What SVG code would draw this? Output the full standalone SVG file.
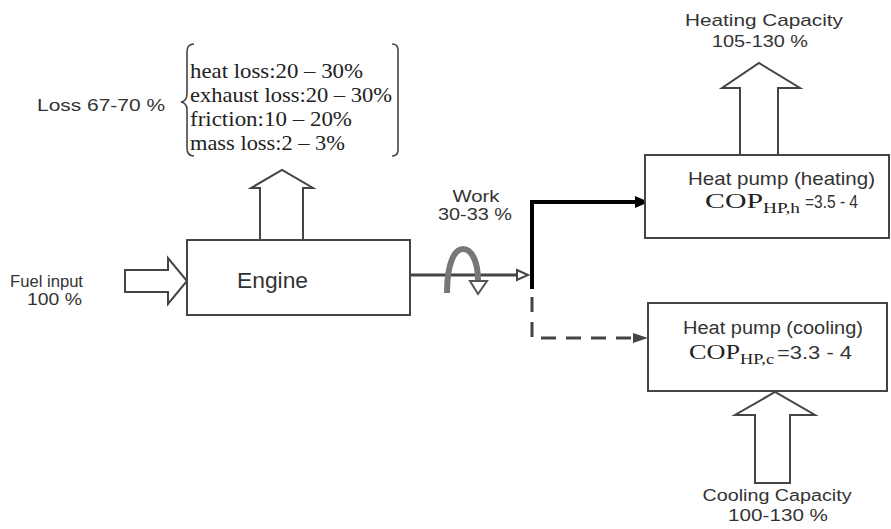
<svg xmlns="http://www.w3.org/2000/svg" width="891" height="529" viewBox="0 0 891 529">
<style>
.sans{font-family:"Liberation Sans",Arial,sans-serif;fill:#333}
.serif{font-family:"Liberation Serif","Times New Roman",serif;fill:#222}
.box{fill:#fff;stroke:#444;stroke-width:2}
.blk{fill:#fff;stroke:#444;stroke-width:2;stroke-linejoin:miter}
.ln{fill:none;stroke:#444}
</style>
<rect width="891" height="529" fill="#fff"/>

<g id="loss">
  <text class="sans" x="37" y="111" font-size="17" textLength="128" lengthAdjust="spacingAndGlyphs">Loss 67-70 %</text>
  <path class="ln" stroke-width="1.6" d="M194 44 Q187 44 187 52 V94 Q187 101 181 102 Q187 103 187 110 V148 Q187 156 194 156"/>
  <path class="ln" stroke-width="1.6" d="M392 44 Q398 44 398 50 V150 Q398 156 392 156"/>
  <text class="serif" x="190" y="78" font-size="21" textLength="173" lengthAdjust="spacingAndGlyphs">heat loss:20 – 30%</text>
  <text class="serif" x="190" y="102" font-size="21" textLength="202" lengthAdjust="spacingAndGlyphs">exhaust loss:20 – 30%</text>
  <text class="serif" x="190" y="126" font-size="21" textLength="162" lengthAdjust="spacingAndGlyphs">friction:10 – 20%</text>
  <text class="serif" x="190" y="150" font-size="21" textLength="155" lengthAdjust="spacingAndGlyphs">mass loss:2 – 3%</text>
</g>

<g id="fuel">
  <text class="sans" x="10" y="287" font-size="17" textLength="73" lengthAdjust="spacingAndGlyphs">Fuel input</text>
  <text class="sans" x="27" y="305" font-size="17" textLength="55" lengthAdjust="spacingAndGlyphs">100 %</text>
  <polygon class="blk" stroke-width="2.5" points="125,270 168,270 168,258 187,281 168,304 168,292 125,292"/>
</g>

<g id="engine">
  <rect class="box" x="187" y="240" width="223" height="75" stroke-width="2.5" stroke="#555"/>
  <text class="sans" x="237" y="288" font-size="22" textLength="71" lengthAdjust="spacingAndGlyphs">Engine</text>
  <polygon class="blk" points="260,240 260,188 251,188 282,170 313,188 303,188 303,240"/>
</g>

<g id="connectors">
  <path class="ln" stroke-width="3" d="M410 275 H519"/>
  <polygon points="517,270 528,275 517,280" fill="#fff" stroke="#444" stroke-width="2"/>
  <path d="M447 293 C447 262 455 249 463 249 C472 249 478 262 478 281" fill="none" stroke="#777" stroke-width="6"/>
  <polygon points="470,281 487,281 478,294" fill="#fff" stroke="#555" stroke-width="2"/>
  <path d="M532 289 V202 H637" fill="none" stroke="#000" stroke-width="4"/>
  <polygon points="635,196 649,202 635,208" fill="#000"/>
  <path class="ln" stroke-width="3" stroke-dasharray="15 10" d="M532 297 V338 H634"/>
  <polygon points="633,333 648,338 633,343" fill="#444"/>
</g>

<g id="work">
  <text class="sans" x="476" y="202" font-size="17" text-anchor="middle" textLength="47" lengthAdjust="spacingAndGlyphs">Work</text>
  <text class="sans" x="475" y="220" font-size="17" text-anchor="middle" textLength="74" lengthAdjust="spacingAndGlyphs">30-33 %</text>
</g>

<g id="heating">
  <rect class="box" x="645" y="155" width="244" height="83" stroke-width="1.5"/>
  <text class="sans" x="688" y="185" font-size="19" textLength="187" lengthAdjust="spacingAndGlyphs">Heat pump (heating)</text>
  <text class="serif" x="705" y="208" font-size="21" textLength="58" lengthAdjust="spacingAndGlyphs">COP</text>
  <text class="serif" x="763" y="213" font-size="14" textLength="37" lengthAdjust="spacingAndGlyphs">HP,h</text>
  <text class="sans" x="805" y="208" font-size="18" textLength="53" lengthAdjust="spacingAndGlyphs">=3.5 - 4</text>
  <polygon class="blk" stroke="#666" stroke-width="1.5" points="740,155 740,88 722,88 759,63 800,88 778,88 778,155"/>
  <text class="sans" x="764" y="26" font-size="17" text-anchor="middle" textLength="158" lengthAdjust="spacingAndGlyphs">Heating Capacity</text>
  <text class="sans" x="760" y="47" font-size="17" text-anchor="middle" textLength="96" lengthAdjust="spacingAndGlyphs">105-130 %</text>
</g>

<g id="cooling">
  <rect class="box" x="648" y="303" width="239" height="88" stroke="#555"/>
  <text class="sans" x="683" y="334" font-size="18" textLength="180" lengthAdjust="spacingAndGlyphs">Heat pump (cooling)</text>
  <text class="serif" x="689" y="359" font-size="20" textLength="51" lengthAdjust="spacingAndGlyphs">COP</text>
  <text class="serif" x="740" y="364" font-size="14" textLength="34" lengthAdjust="spacingAndGlyphs">HP,c</text>
  <text class="sans" x="777" y="359" font-size="18" textLength="75" lengthAdjust="spacingAndGlyphs">=3.3 - 4</text>
  <polygon class="blk" points="755,483 755,415 735,415 775,392 815,415 790,415 790,483"/>
  <text class="sans" x="777" y="501" font-size="16" text-anchor="middle" textLength="149" lengthAdjust="spacingAndGlyphs">Cooling Capacity</text>
  <text class="sans" x="778" y="521" font-size="16" text-anchor="middle" textLength="100" lengthAdjust="spacingAndGlyphs">100-130 %</text>
</g>
</svg>
